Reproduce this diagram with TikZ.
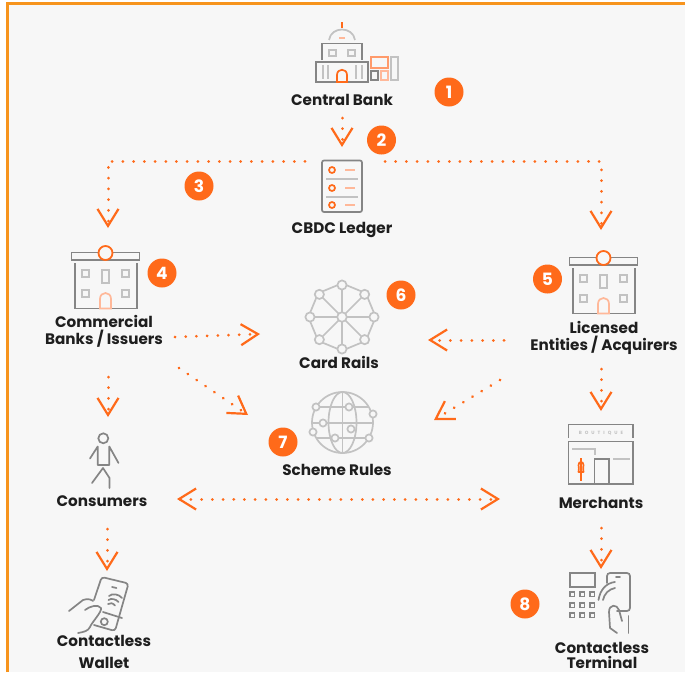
\documentclass[tikz,border=0pt]{standalone}
\usepackage{fontspec}
\setmainfont{Poppins}
\usetikzlibrary{arrows.meta,calc}
\definecolor{bgc}{HTML}{F7F7F7}
\definecolor{framec}{HTML}{F7941D}
\definecolor{orng}{HTML}{FF6A1A}
\definecolor{morng}{HTML}{FF9A6B}
\definecolor{lorng}{HTML}{FFB899}
\definecolor{gr}{HTML}{858585}
\definecolor{lgr}{HTML}{C2C2C2}
\definecolor{ink}{HTML}{1E1E1E}
\tikzset{
  iconbox/.style={inner sep=0pt,outer sep=0pt,minimum width=#1},
  lbl/.style={font=\fontsize{15.2}{17}\selectfont\bfseries,text=ink,align=center,inner sep=0pt},
  badge/.style={circle,fill=orng,text=white,inner sep=0pt,minimum size=29pt,font=\fontsize{17}{17}\selectfont\bfseries},
  flow/.style={draw=orng,line width=3pt,line cap=round,dash pattern=on 0.01pt off 10.7pt,
    -{Straight Barb[length=17pt,width=21pt,line width=2.2pt,line cap=butt,color=orng]}},
  flowboth/.style={flow,{Straight Barb[length=17pt,width=21pt,line width=2.2pt,line cap=butt,color=orng]}-{Straight Barb[length=17pt,width=21pt,line width=2.2pt,line cap=butt,color=orng]}},
  g/.style={draw=gr,line width=1.7pt},
  lg/.style={draw=lgr,line width=1.7pt},
  o/.style={draw=orng,line width=1.7pt},
  lo/.style={draw=lorng,line width=1.7pt},
  bankicon/.pic={
    \draw[g] (-34,-.5) rectangle (34,7);
    \draw[g] (-30.5,10) -- (-30.5,55.5) -- (-5.5,55.5);
    \draw[g] (31.5,10) -- (31.5,55.5) -- (5.5,55.5);
    \foreach \xx/\yy in {-23.5/17,16.5/17,-23.5/37,16.5/37}
      \draw[lg] (\xx,\yy) rectangle ++(7,7);
    \draw[lg] (-3.5,17) rectangle (3.5,30);
    \draw[lo] (-5.5,55.5) -- (-5.5,46) .. controls (-5.5,38) and (5.5,38) .. (5.5,46) -- (5.5,55.5) -- cycle;
    \draw[draw=orng,fill=bgc,line width=1.8pt] (0,0) circle (7);
  }
}
\begin{document}
\begin{tikzpicture}[x=1pt,y=-1pt]
\useasboundingbox (0,0) rectangle (685,672);
\fill[white] (0,0) rectangle (685,672);
\fill[bgc] (7,3) rectangle (685,672);
\draw[framec,line width=3pt] (7.5,672) -- (7.5,3.5) -- (685,3.5);

% invisible icon boxes
\node[iconbox=40pt,minimum height=52pt] (ledger) at (342,186) {};
\node[iconbox=69pt,minimum height=63pt] (commercial) at (105.5,276.5) {};
\node[iconbox=69pt,minimum height=63pt] (licensed) at (603.5,281.5) {};
\node[iconbox=74pt,minimum height=74pt] (card) at (342,317) {};
\node[iconbox=64pt,minimum height=64pt] (scheme) at (342.5,422.5) {};
\node[iconbox=30pt,minimum height=56pt] (person) at (104,460) {};
\node[iconbox=65pt,minimum height=60pt] (merchant) at (600.5,454) {};
\node[iconbox=40pt,minimum height=56pt] (wallet) at (100,604) {};
\node[iconbox=60pt,minimum height=60pt] (terminal) at (600,603) {};

% labels
\node[lbl] (lcb) at (342,99.5) {Central Bank};
\node[lbl] (lled) at (342,229.5) {CBDC Ledger};
\node[lbl] (lcom) at (104,331.5) {Commercial\\Banks / Issuers};
\node[lbl] (llic) at (604,338) {Licensed\\Entities / Acquirers};
\node[lbl] (lcard) at (339,362.5) {Card Rails};
\node[lbl] (lsch) at (337,469.5) {Scheme Rules};
\node[lbl] (lcon) at (102,501.5) {Consumers};
\node[lbl] (lmer) at (601,502.5) {Merchants};
\node[lbl,font=\fontsize{15.2}{22}\selectfont\bfseries] (lwal) at (104,652) {Contactless\\Wallet};
\node[lbl,font=\fontsize{15.2}{15.5}\selectfont\bfseries] (lter) at (602,655.5) {Contactless\\Terminal};

% badges
\node[badge] (b1) at (449,92) {1};
\node[badge] (b2) at (381.5,140) {2};
\node[badge] (b3) at (199,186) {3};
\node[badge] (b4) at (162,273) {4};
\node[badge] (b5) at (547.5,279) {5};
\node[badge] (b6) at (401,295) {6};
\node[badge] (b7) at (283,442) {7};
\node[badge] (b8) at (525,604) {8};

% central bank icon
\draw[o] (342,22) -- (342,28);
\draw[lg] (329,40) .. controls (331,26) and (353,26) .. (355,40);
\draw[lo] (339,37.7) -- (345,37.7);
\draw[g] (322,60) -- (322,43.5) -- (362,43.5) -- (362,60);
\draw[lg] (329,50) rectangle (336,56);
\draw[lg] (348,50) rectangle (355,56);
\draw[g] (316,62) rectangle (368,82);
\foreach \xx in {323,328,356,362} \draw[lg] (\xx,65) -- (\xx,79);
\draw[o] (337,82) -- (337,75) .. controls (337,68) and (347,68) .. (347,75) -- (347,82) -- cycle;
\draw[draw=morng,line width=1.5pt] (371,57) rectangle (388,68);
\draw[draw=lgr,line width=1.3pt] (391,57) rectangle (398,80);
\draw[g] (371,71) rectangle (378,80);
\draw[lo] (381,71) rectangle (388,80);

% ledger icon
\draw[g,rounded corners=2pt] (322,160.5) rectangle (362,212);
\foreach \yy in {179,197} \draw[lg] (326,\yy) -- (358,\yy);
\foreach \yy in {170,188,205} {
  \draw[o] (332,\yy) circle (3);
  \draw[lo] (345,\yy) -- (355,\yy);
}

% bank icons
\pic at (105.5,253) {bankicon};
\pic at (603.5,258) {bankicon};

% card rails icon
\foreach \a in {0,45,...,315} {
  \draw[lg] ($(342,317)+(\a:5)$) -- ($(342,317)+(\a:27)$);
  \draw[lg] ($(342,317)+(\a+9:32)$) -- ($(342,317)+(\a+36:32)$);
}
\foreach \a in {0,45,...,315}
  \draw[draw=lgr,line width=1.7pt,fill=bgc] ($(342,317)+(\a:32)$) circle (4.6);
\draw[draw=lgr,line width=1.7pt,fill=bgc] (342,317) circle (4.8);

% globe icon
\draw[lg] (342.5,422.5) circle (30.5);
\draw[lg] (342.5,422.5) ellipse (14 and 30.5);
\draw[lg] (342.5,392) -- (342.5,453);
\draw[lg] (316,407) -- (369,407);
\draw[lg] (312,423) -- (373,423);
\draw[lg] (317,438) -- (368,438);
\foreach \xx/\yy in {316/407,349/407,373/414,323/423,351/429,313/432,335/438,369/438}
  \draw[draw=lgr,line width=1.7pt,fill=bgc] (\xx,\yy) circle (3.6);

% person icon
\draw[g] (103.3,438.3) circle (5);
\draw[g,line join=round,line cap=round] (90,458.5) -- (97.7,446.5) -- (97.7,465) -- (109.3,465) -- (109.3,446.5) -- (118.5,463);
\draw[g,line join=round,line cap=round] (92,483) -- (103,468) -- (109.5,478) -- (109.5,488);

% boutique icon
\draw[g] (568.5,438) -- (568.5,424.5) -- (633,424.5) -- (633,438);
\node[font=\fontsize{4.6}{5}\selectfont\bfseries,text=lgr,inner sep=0pt] (boutique) at (601,433) {B\hspace{3pt}O\hspace{3pt}U\hspace{3pt}T\hspace{3pt}I\hspace{3pt}Q\hspace{3pt}U\hspace{3pt}E};
\draw[g] (568.5,441.5) rectangle (633,484);
\draw[lg] (572,449) -- (595,449) -- (595,455);
\draw[g] (594.5,483) -- (594.5,459) -- (609,459) -- (609,483);
\draw[lg] (613,459) -- (630,459);
\draw[o] (581,458) -- (581,481);
\draw[o,line join=round] (578.5,465) .. controls (578.5,461) and (583.5,461) .. (583.5,465) .. controls (583.5,468) and (582.5,469) .. (583.5,472) -- (578.5,472) .. controls (579.5,469) and (578.5,468) .. (578.5,465);

% wallet icon
\draw[g,line cap=round,rounded corners=3pt] (94,600) -- (101.7,577) -- (128.5,583.5) -- (115,631) -- (94,625);
\draw[g,line cap=round] (112,587) -- (116.5,588);
\draw[g,line cap=round] (122,618) -- (103,612);
\draw[g] (104.3,621.7) circle (3.5);
\draw[g,line cap=round] (109,596) .. controls (112,593) and (119,594) .. (122,598);
\draw[g,line cap=round] (108.5,600) .. controls (111,598) and (116,599) .. (118.5,602);
\draw[g,line cap=round] (108,604) .. controls (110,602.5) and (113,603) .. (115,605.5);
\draw[g,line cap=round,line join=round] (69,611) -- (83,600) .. controls (88,598) and (92,600) .. (93,601);
\draw[g,line cap=round,line join=round] (85,610) .. controls (90,606) and (98,604) .. (101,608) .. controls (102,612) and (92,622) .. (90,627) .. controls (88,631) and (84,632) .. (78,633);

% terminal icon
\draw[g] (570,573) rectangle (595,587);
\foreach \xx in {572,582,592} \foreach \yy in {594,605,615}
  \draw[draw=gr,line width=1.4pt] (\xx-2.2,\yy-2.2) rectangle (\xx+2.2,\yy+2.2);
\draw[g,line cap=round,rounded corners=3pt] (607,583) -- (607,573) -- (630,573) -- (630,611) -- (617,611);
\draw[g,line cap=round] (616,577) -- (620,577);
\draw[g,line cap=round] (598.5,600) .. controls (600,590) and (606,583) .. (615,582);
\draw[g,line cap=round] (603,600) .. controls (604,594) and (609,589) .. (615,588);
\draw[g,line cap=round,line join=round] (617,633) -- (610,628) -- (609,612) .. controls (609,604) and (617,604) .. (619,610) -- (622,621);
\draw[g,line cap=round] (628.5,616) -- (628.5,633);

% connectors
\draw[flow] ([shift={(0,18.5)}]lcb.center) -- ([shift={(0,-13)}]ledger.north);
\draw[flow] ([shift={(-17,1)}]ledger.north west) -| ([shift={(2.5,-17)}]commercial.north);
\draw[flow] ([shift={(23,1)}]ledger.north east) -| ([shift={(-2.5,-20)}]licensed.north);
\draw[flow] ([shift={(71,5.5)}]lcom.center) -- ([shift={(-45,17)}]card.west);
\draw[flow] ([shift={(75,36.5)}]lcom.center) -- ([shift={(-62.5,-7.5)}]scheme.west);
\draw[flow] ([shift={(-100,2)}]llic.center) -- ([shift={(49,23)}]card.east);
\draw[flow] ([shift={(-104,42)}]llic.center) -- ([shift={(59.5,-2.5)}]scheme.east);
\draw[flow] ([shift={(4,45.5)}]lcom.center) -- ([shift={(4,-15)}]person.north);
\draw[flow] ([shift={(-3,31)}]llic.center) -- ([shift={(0.5,-13)}]merchant.north);
\draw[flowboth] ([shift={(75,-2.5)}]lcon.center) -- ([shift={(-101,-3.5)}]lmer.center);
\draw[flow] ([shift={(5,27.5)}]lcon.center) -- ([shift={(7,-5)}]wallet.north);
\draw[flow] ([shift={(0,25.5)}]lmer.center) -- ([shift={(1,-4)}]terminal.north);
\end{tikzpicture}
\end{document}
